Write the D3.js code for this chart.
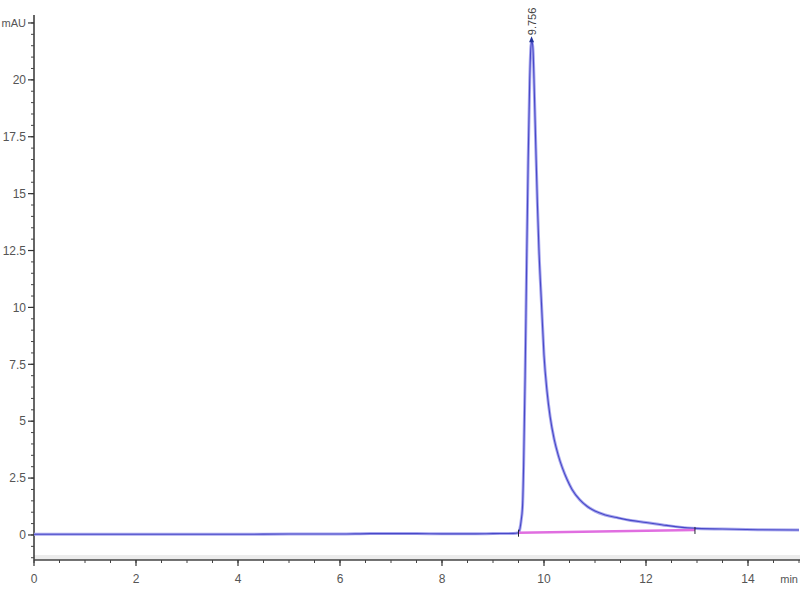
<!DOCTYPE html>
<html><head><meta charset="utf-8">
<script src="https://cdn.jsdelivr.net/npm/d3@7"></script>
<style>body{margin:0;background:#fff}svg{display:block}</style>
</head><body>
<svg id="c" width="800" height="600"></svg>
<script>
// Chromatogram trace: time (min) and absorbance (mAU)
const times  = [0, 1.0, 2.0, 3.0, 4.0, 5.0, 6.0, 6.6, 7.5, 8.0, 8.6, 9.0, 9.4, 9.5, 9.53, 9.55, 9.58, 9.60, 9.63, 9.66, 9.69, 9.72, 9.745, 9.765, 9.785, 9.81, 9.84, 9.87, 9.90, 9.95, 10.0, 10.06, 10.12, 10.2, 10.28, 10.36, 10.45, 10.55, 10.7, 10.85, 11.0, 11.2, 11.45, 11.7, 12.0, 12.4, 12.9, 13.5, 14.2, 15.0];
const values = [0.03, 0.03, 0.03, 0.03, 0.03, 0.04, 0.04, 0.06, 0.06, 0.05, 0.05, 0.06, 0.07, 0.1, 0.3, 0.6, 1.3, 3.0, 7.0, 12.0, 16.5, 20.0, 21.5, 21.7, 21.3, 19.5, 17.0, 14.6, 12.6, 10.2, 7.9, 6.3, 5.2, 4.2, 3.5, 2.95, 2.45, 2.0, 1.55, 1.25, 1.05, 0.88, 0.75, 0.64, 0.55, 0.42, 0.3, 0.26, 0.23, 0.22];
// Integration baseline (start/end of peak)
const baseTimes  = [9.5, 12.96];
const baseValues = [0.1, 0.22];
// Peak annotation
const peakTimes  = [9.756];
const peakLabels = ["9.756"];
const peakValues = [21.7];
// Axis ticks
const xMajor = [0, 2, 4, 6, 8, 10, 12, 14];
const yMajor = [0, 2.5, 5, 7.5, 10, 12.5, 15, 17.5, 20];
const yLabels = ["0", "2.5", "5", "7.5", "10", "12.5", "15", "17.5", "20"];
const yUnitLabel = "mAU";
const xUnitLabel = "min";

const svg = d3.select("#c");
const x = d3.scaleLinear().domain([0, 15]).range([34, 799]);
const y = d3.scaleLinear().domain([-1.1, 22.85]).range([560, 15]);
const font = "'Liberation Sans Narrow','Arial Narrow','Liberation Sans',sans-serif";

// light band above x axis
svg.append("rect").attr("x", x(0)).attr("y", y(-1.1) - 5).attr("width", 800 - x(0)).attr("height", 5).attr("fill", "#ececec");

// Y axis
const yMinor = d3.range(-1, 22.51, 0.5);
svg.append("line").attr("x1", x(0)).attr("x2", x(0)).attr("y1", y(22.85)).attr("y2", y(-1.1)).attr("stroke", "#333").attr("stroke-width", 1.5);
svg.selectAll(".ymin").data(yMinor).enter().append("line")
  .attr("x1", x(0) - 3).attr("x2", x(0)).attr("y1", d => y(d)).attr("y2", d => y(d))
  .attr("stroke", "#444").attr("stroke-width", 1);
svg.selectAll(".ymaj").data(yMajor.concat([22.5])).enter().append("line")
  .attr("x1", x(0) - 6).attr("x2", x(0)).attr("y1", d => y(d)).attr("y2", d => y(d))
  .attr("stroke", "#333").attr("stroke-width", 1.2);
svg.selectAll(".ylab").data(yMajor).enter().append("text")
  .attr("x", x(0) - 8).attr("y", d => y(d)).attr("dy", "0.35em")
  .attr("text-anchor", "end").attr("font-family", font).attr("font-size", 12).attr("fill", "#555")
  .text((d, i) => yLabels[i]);
svg.append("text").attr("x", x(0) - 8).attr("y", y(22.5)).attr("dy", "0.35em")
  .attr("text-anchor", "end").attr("font-family", font).attr("font-size", 11).attr("fill", "#555").text(yUnitLabel);

// X axis
const xMinor = d3.range(0, 15.01, 0.5);
svg.append("line").attr("x1", x(0)).attr("x2", 800).attr("y1", y(-1.1)).attr("y2", y(-1.1)).attr("stroke", "#444").attr("stroke-width", 1.5);
svg.selectAll(".xmin").data(xMinor).enter().append("line")
  .attr("x1", d => x(d)).attr("x2", d => x(d)).attr("y1", y(-1.1)).attr("y2", y(-1.1) + 3)
  .attr("stroke", "#444").attr("stroke-width", 1);
svg.selectAll(".xmaj").data(xMajor).enter().append("line")
  .attr("x1", d => x(d)).attr("x2", d => x(d)).attr("y1", y(-1.1)).attr("y2", y(-1.1) + 6)
  .attr("stroke", "#333").attr("stroke-width", 1.2);
svg.selectAll(".xlab").data(xMajor).enter().append("text")
  .attr("x", d => x(d)).attr("y", 583).attr("text-anchor", "middle")
  .attr("font-family", font).attr("font-size", 12).attr("fill", "#555").text(d => d);
svg.append("text").attr("x", 798).attr("y", 583).attr("text-anchor", "end").attr("font-family", font).attr("font-size", 11).attr("fill", "#555").text(xUnitLabel);

// Trace
const pts = times.map((t, i) => [t, values[i]]);
const line = d3.line().x(d => x(d[0])).y(d => y(d[1])).curve(d3.curveMonotoneX);
svg.append("path").attr("d", line(pts)).attr("fill", "none").attr("stroke", "#a8a8ee").attr("stroke-width", 3);
svg.append("path").attr("d", line(pts)).attr("fill", "none").attr("stroke", "#4848c8").attr("stroke-width", 1.1);

// Integration baseline
const bpts = baseTimes.map((t, i) => [t, baseValues[i]]);
svg.append("path").attr("d", d3.line().x(d => x(d[0])).y(d => y(d[1]))(bpts))
  .attr("fill", "none").attr("stroke", "#e06ee0").attr("stroke-width", 2.5);
svg.selectAll(".bm").data(bpts).enter().append("line")
  .attr("x1", d => x(d[0])).attr("x2", d => x(d[0])).attr("y1", d => y(d[1]) - 3).attr("y2", d => y(d[1]) + 4)
  .attr("stroke", "#223").attr("stroke-width", 1);

// Peak label
peakTimes.forEach((t, i) => {
  const px = x(t), py = y(peakValues[i]);
  svg.append("path").attr("d", `M${px - 2.5},${py + 1}L${px + 2.5},${py + 1}L${px},${py - 5}Z`).attr("fill", "#223399");
  svg.append("text").attr("transform", `translate(${px + 4},${py - 6}) rotate(-90)`)
    .attr("font-family", font).attr("font-size", 11).attr("fill", "#444").text(peakLabels[i]);
});
</script>
</body></html>
